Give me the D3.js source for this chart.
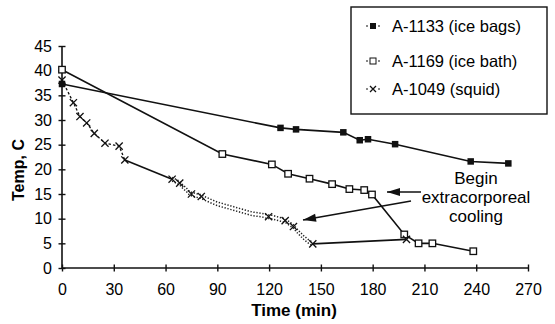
<!DOCTYPE html>
<html><head><meta charset="utf-8">
<script src="https://cdn.jsdelivr.net/npm/d3@7"></script>
<style>body{margin:0;background:#fff}svg{display:block}text{font-family:"Liberation Sans",Arial,sans-serif;fill:#000}</style>
</head><body><svg id="c" width="555" height="324"></svg>
<script>
const xTicks=[0,30,60,90,120,150,180,210,240,270];
const yTicks=[0,5,10,15,20,25,30,35,40,45];
const seriesNames=["A-1133 (ice bags)","A-1169 (ice bath)","A-1049 (squid)"];
const bagsTime=[0,126.6,135.6,163,172.5,177.3,193,236.8,258.6];
const bagsTemp=[37.3,28.4,28.1,27.5,25.9,26.1,25.1,21.6,21.2];
const bathTime=[0,92.9,121.6,131,143.4,156.5,166.5,175.1,179.6,198.3,206.6,214.6,238.3];
const bathTemp=[40.2,23.1,21.0,19.1,18.1,17.0,16.0,15.8,14.9,6.8,5.0,5.0,3.4];
const squidTime=[0,6.6,10.4,14.3,18.7,24.9,33.1,36.4,63.8,68.2,70,72,73.5,75,77,79,80.7,82,84,86,88,90,92,94,96,98,100,102,104,106,108,110,112,114,116,118,119.7,122,124,126,129.3,131,134.1,136,138,140,142,143.5,145.3,199.6];
const squidTemp=[38.1,33.5,30.7,29.4,27.3,25.3,24.7,21.9,18.0,17.2,16.5,15.9,15.3,15.0,14.8,14.6,14.5,14.2,13.9,13.6,13.3,13.0,12.8,12.6,12.4,12.2,12.0,11.8,11.6,11.4,11.2,11.0,10.9,10.8,10.7,10.5,10.4,10.3,10.1,9.9,9.6,9.2,8.4,7.6,6.9,6.2,5.6,5.2,4.9,5.8];
const squidMarkTimes=[0,6.6,10.4,14.3,18.7,24.9,33.1,36.4,63.8,68.2,75,80.7,119.7,129.3,134.1,145.3,199.6];
const annotationLines=["Begin","extracorporeal","cooling"];

const svg=d3.select("#c");
const x=d3.scaleLinear().domain([0,270]).range([62,528]);
const y=d3.scaleLinear().domain([0,45]).range([268,46]);

const gy=svg.append("g").attr("transform","translate(62,0)")
 .call(d3.axisLeft(y).tickValues(yTicks).tickSize(4).tickPadding(6));
gy.select(".domain").attr("d","M0,"+y(45)+"V"+y(0)).attr("stroke","#111").attr("stroke-width",1.6);
gy.selectAll(".tick line").attr("x1",-3.5).attr("x2",3.5).attr("stroke","#111").attr("stroke-width",1.4);
gy.selectAll(".tick text").attr("font-size",16).attr("font-family","Liberation Sans").attr("fill","#000");
const gx=svg.append("g").attr("transform","translate(0,268)")
 .call(d3.axisBottom(x).tickValues(xTicks).tickSize(4).tickPadding(12));
gx.select(".domain").attr("d","M"+x(0)+",0H"+x(270)).attr("stroke","#111").attr("stroke-width",1.6);
gx.selectAll(".tick line").attr("y1",-3.5).attr("y2",3.5).attr("stroke","#111").attr("stroke-width",1.4);
gx.selectAll(".tick text").attr("font-size",16).attr("font-family","Liberation Sans").attr("fill","#000");

svg.append("text").attr("x",294).attr("y",316).attr("text-anchor","middle")
 .attr("font-weight","bold").attr("font-size",17).text("Time (min)");
svg.append("text").attr("transform","translate(24,170) rotate(-90)").attr("text-anchor","middle")
 .attr("font-weight","bold").attr("font-size",16).text("Temp, C");

const line=d3.line().x(d=>x(d[0])).y(d=>y(d[1]));
const bags=bagsTime.map((t,i)=>[t,bagsTemp[i]]);
const bath=bathTime.map((t,i)=>[t,bathTemp[i]]);
const squid=squidTime.map((t,i)=>[t,squidTemp[i]]);

svg.append("path").attr("d",line(bags)).attr("fill","none").attr("stroke","#111").attr("stroke-width",1.6);
svg.append("path").attr("d",line(bath)).attr("fill","none").attr("stroke","#111").attr("stroke-width",1.6);

const seg=(a,b)=>squid.filter(d=>d[0]>=a&&d[0]<=b);
svg.append("path").attr("d",line(seg(0,36.4))).attr("fill","none").attr("stroke","#111").attr("stroke-width",1.3).attr("stroke-dasharray","2.5,2");
svg.append("path").attr("d",line(seg(36.4,63.8))).attr("fill","none").attr("stroke","#111").attr("stroke-width",1.6);
[-1.8,1.8].forEach(off=>{
 svg.append("path").attr("transform","translate(0,"+off+")").attr("d",line(seg(63.8,145.3)))
  .attr("fill","none").attr("stroke","#222").attr("stroke-width",1.5).attr("stroke-dasharray","1.3,1.7");
});
svg.append("path").attr("d",line(seg(145.3,200))).attr("fill","none").attr("stroke","#111").attr("stroke-width",1.6);

const sq=6.5;
svg.selectAll(".fb").data(bags).join("rect").attr("x",d=>x(d[0])-sq/2).attr("y",d=>y(d[1])-sq/2)
 .attr("width",sq).attr("height",sq).attr("fill","#111");
svg.selectAll(".ob").data(bath).join("rect").attr("x",d=>x(d[0])-sq/2).attr("y",d=>y(d[1])-sq/2)
 .attr("width",sq).attr("height",sq).attr("fill","#fff").attr("stroke","#111").attr("stroke-width",1.3);
const xm=(g,cx,cy,r)=>g.append("path").attr("d",`M${cx-r},${cy-r}L${cx+r},${cy+r}M${cx-r},${cy+r}L${cx+r},${cy-r}`)
 .attr("stroke","#111").attr("stroke-width",1.3).attr("fill","none");
squid.filter(d=>squidMarkTimes.includes(d[0])).forEach(d=>xm(svg,x(d[0]),y(d[1]),3.6));

svg.append("rect").attr("x",351).attr("y",7).attr("width",196).attr("height",107)
 .attr("fill","#fff").attr("stroke","#111").attr("stroke-width",1.4);
const ly=[26,61,89];
seriesNames.forEach((n,i)=>{
 const g=svg.append("g");
 g.append("line").attr("x1",366).attr("x2",381).attr("y1",ly[i]).attr("y2",ly[i]).attr("stroke","#111").attr("stroke-width",1.2).attr("stroke-dasharray","2,2");
 if(i===0) g.append("rect").attr("x",370).attr("y",ly[i]-3).attr("width",6).attr("height",6).attr("fill","#111");
 if(i===1) g.append("rect").attr("x",370).attr("y",ly[i]-3).attr("width",6).attr("height",6).attr("fill","#fff").attr("stroke","#111").attr("stroke-width",1);
 if(i===2){g.append("rect").attr("x",369).attr("y",ly[i]-4).attr("width",8).attr("height",8).attr("fill","#fff");xm(g,373,ly[i],3);}
 g.append("text").attr("x",392).attr("y",ly[i]).attr("dy","0.35em").attr("font-size",16.5).text(n);
});

annotationLines.forEach((t,i)=>svg.append("text").attr("x",476).attr("y",[178,197,216][i]).attr("dy","0.35em")
 .attr("text-anchor","middle").attr("font-size",17).text(t));
const arrow=(x1,y1,x2,y2)=>{
 svg.append("line").attr("x1",x1).attr("y1",y1).attr("x2",x2).attr("y2",y2).attr("stroke","#111").attr("stroke-width",1.6);
 const a=Math.atan2(y2-y1,x2-x1),L=13,W=4;
 const bx=x2-L*Math.cos(a),by=y2-L*Math.sin(a);
 svg.append("path").attr("d",`M${x2},${y2}L${bx+W*Math.sin(a)},${by-W*Math.cos(a)}L${bx-W*Math.sin(a)},${by+W*Math.cos(a)}Z`).attr("fill","#111");
};
arrow(421,192,387,192);
arrow(411,201,303,220);
</script></body></html>
